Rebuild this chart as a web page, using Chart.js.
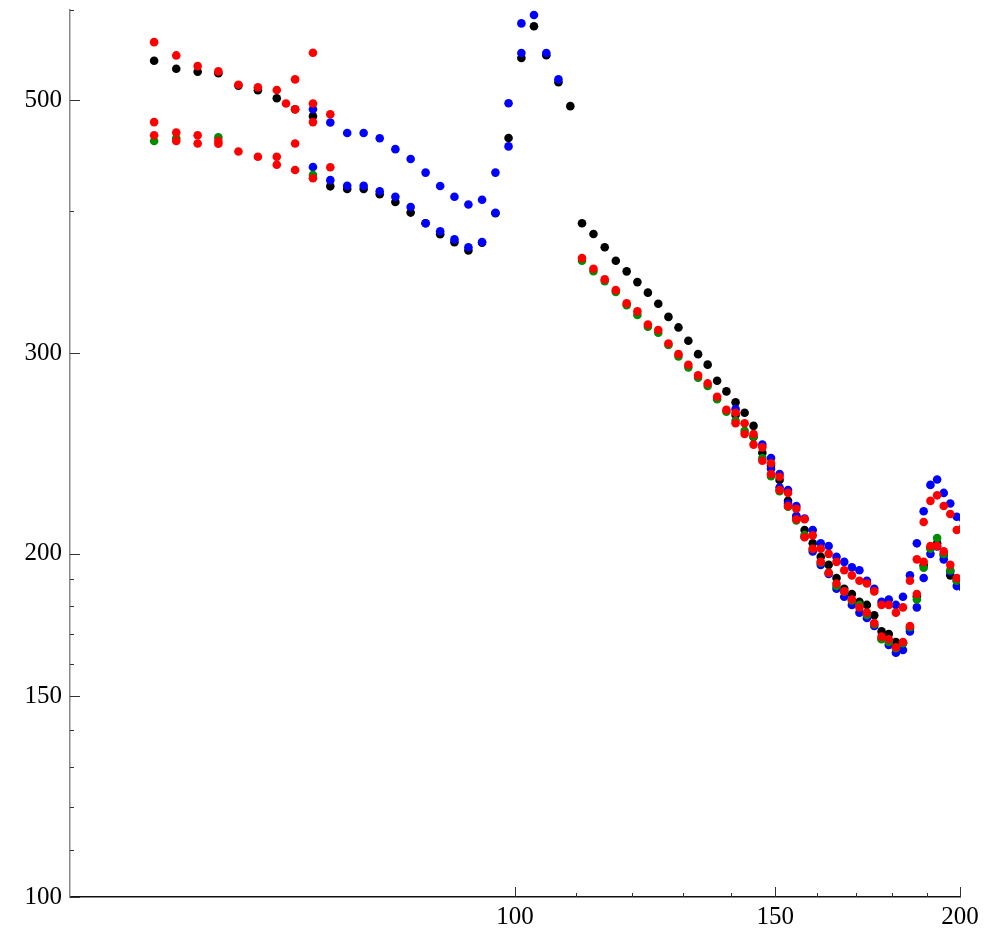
<!DOCTYPE html>
<html>
<head>
<meta charset="utf-8">
<script src="https://cdn.jsdelivr.net/npm/chart.js@4.4.1/dist/chart.umd.min.js"></script>
<style>
  html, body { margin: 0; padding: 0; background: #fff; }
</style>
</head>
<body>
<canvas id="chart" width="991" height="931"></canvas>
<script>
// tick values (both axes are logarithmic)
const xMajor = [100, 150, 200];
const xMinor = [110, 120, 130, 140, 160, 170, 180, 190];
const yMajor = [100, 150, 200, 300, 500];
const yMinor = [110, 120, 130, 140, 160, 170, 180, 190, 400, 600];

// black series
const blackX = [57, 59, 61, 63, 65, 67, 69, 71, 73,
  75, 77, 79, 81, 83, 85, 87, 89, 91, 93, 95, 97,
  99, 101, 103, 105, 107, 109,
  111, 113, 115, 117, 119, 121, 123, 125, 127, 129, 131, 133, 135, 137, 139,
  141, 141, 143, 145, 145, 147, 149, 151, 153, 155, 157, 159, 161, 163, 165,
  167, 169, 171, 173, 175, 177, 179, 181, 183,
  185, 187, 189, 191, 193, 195, 197, 199, 201];
const blackY = [541.6, 532.9, 529.6, 528, 515, 510.2, 502.1, 491, 484,
  420.2, 417.9, 417.9, 413.5, 407.1, 398.5, 390, 381.4, 375.3, 369.2, 375, 398,
  463.3, 544.6, 580.7, 547.6, 518.5, 494.1,
  390.0, 381.6, 371.5, 361.5, 353.9, 346.3, 339.0, 331.5, 322.8, 316.0, 307.6, 299.4, 293.1, 283.7, 277.7,
  271.6, 264.8, 266.0, 259.0, 253.3, 245.3, 239, 232.2, 222.6, 215.6, 209.9, 204.3, 198.8, 195.6, 190.5,
  186.4, 184.4, 181.5, 180.4, 176.7, 171.0, 170.1, 167.4, 167,
  172, 183.5, 195.5, 202.5, 204.3, 199.5, 191.5, 189.5, 189];

// blue series
const blueX = [73, 75, 77, 79, 81, 83, 85, 87, 89, 91, 93, 95, 97, 99, 101, 103, 105, 107,
  73, 75, 77, 79, 81, 83, 85, 87, 89, 91, 93, 95, 97, 99, 101,
  141,
  147, 149, 151, 153, 155, 157, 159, 161, 163, 165, 167, 169, 171, 173, 175, 177, 179, 181, 183,
  185, 187, 189, 191, 193, 195, 197, 199, 201,
  149, 151, 153, 155, 157, 159, 161, 163, 165, 167, 169, 171, 173, 175, 177, 179, 181, 183,
  185, 187, 189, 191, 193, 195, 197, 199, 201];
const blueY = [491, 478, 468, 468, 463, 453, 444, 432, 420.5, 411.5, 405, 409, 432, 497, 584, 594, 550, 521.5,
  437, 425.5, 420.6, 420.6, 416, 411.5, 403, 390, 383.7, 377.5, 371.5, 375.5, 398.4, 455.5, 550,
  267.9,
  249.4, 242.7, 235.0, 227.5, 220.3, 214.8, 209.9, 204.3, 203.2, 198.8, 196.8, 194.6, 193.5, 189.4, 186.4, 181.5, 182.4, 180.4, 183.4,
  191.5, 204.3, 218.0, 229.9, 232.4, 226.2, 221.4, 215.6, 214.5,
  237.5, 228.7, 221.4, 216, 207, 201.0, 195.6, 192, 186.4, 183.4, 180.4, 177.6, 175.7, 172.9, 168.5, 166.4, 163.8, 164.7,
  171.0, 179.5, 190.5, 200.0, 203, 197.8, 193, 187.4, 186.4];

// green series
const greenX = [57, 59, 63, 73,
  111, 113, 115, 117, 119, 121, 123, 125, 127, 129, 131, 133, 135, 137, 139,
  141, 143, 145, 147, 149, 151, 153, 155, 157, 159, 161, 163, 165, 167, 169,
  171, 173, 175, 177, 179, 181, 183, 185, 187, 189, 191, 193, 195, 197, 199, 201];
const greenY = [460.5, 463, 464, 430,
  361.5, 354, 347, 339.5, 330.5, 324, 316.5, 312.6, 305, 298, 291.5, 285.5, 280.7, 273.3, 266.5,
  261.7, 256.4, 253.5, 242.7, 234, 227, 220, 214, 207.8, 202, 196.5, 192.5, 187.4, 185.4, 182,
  180.4, 176.8, 173.5, 168.3, 167.4, 165.3, 167, 172.5, 182.4, 194.5, 202.1, 206.5, 200, 193.5, 189.4, 189.6];

// red series
const redX = [57, 57, 57, 59, 59, 59, 61, 61, 61, 63, 63, 63, 65, 65, 67, 67, 69, 69, 69, 70,
  71, 71, 71, 71, 73, 73, 73, 73, 75, 75,
  111, 113, 115, 117, 119, 121, 123, 125, 127, 129, 131, 133, 135, 137, 139,
  141, 143, 145, 147, 149, 151, 153, 155, 157, 159, 161, 163, 165, 167, 169,
  171, 173, 175, 177, 179, 181, 183, 185, 187, 189, 191, 193, 195, 197, 199, 201,
  141, 143, 145, 147, 149, 151, 153, 155, 157, 159, 161, 163, 165, 167, 169,
  171, 173, 175, 177, 179, 181, 183, 185, 187, 189, 191, 193, 195, 197, 199, 201];
const redY = [562.3, 478.4, 465.8, 547.4, 468.4, 460.5, 535.7, 465.8, 458.2, 530.0, 460.5, 457.9,
  515.9, 450.9, 513.2, 446.1, 510.4, 446.1, 439.0, 496.7,
  521.5, 490.9, 458.2, 434.3, 550.3, 496.7, 478.4, 427.1, 486.1, 436.7,
  363.5, 355.7, 348.2, 340.7, 331.7, 326.4, 317.8, 314.4, 305.9, 299.4, 293.0, 286.8, 282.2, 274.7, 267.5,
  266, 260.4, 254.8, 248.0, 240.2, 233.7, 226.2, 219.1, 214.5, 207.6, 202.1, 200.0, 196.8, 193.5, 191.5,
  189.4, 188.4, 185.4, 180.4, 180.4, 177.6, 179.5, 189.4, 197.8, 213.3, 222.6, 225.1, 220.3, 216.8, 209.9, 211.1,
  260.4, 254.8, 249.4, 241.4, 235.0, 227.5, 220.3, 214.5, 206.8, 202.1, 196.8, 192.5, 188.4, 185.4, 182.4,
  179.5, 177.6, 173.9, 169.2, 168.3, 165.6, 167.4, 172.9, 184.4, 196.8, 203.2, 203.2, 201.0, 195.6, 190.5, 189.4];

function pts(xs, ys) {
    return xs.map((x, i) => ({ x: x, y: ys[i] }));
}

function series(label, xs, ys, color, order) {
    return {
        label: label,
        data: pts(xs, ys),
        backgroundColor: color,
        borderColor: color,
        pointRadius: 4.3,
        pointHoverRadius: 4.3,
        pointBorderWidth: 0,
        clip: 0,
        order: order
    };
}

// inward tick marks, long for labelled values, short for the rest
const tickMarks = {
    id: 'tickMarks',
    afterDraw(chart) {
        const ctx = chart.ctx;
        const area = chart.chartArea;
        const sx = chart.scales.x;
        const sy = chart.scales.y;
        ctx.save();
        ctx.strokeStyle = '#333';
        ctx.lineWidth = 1;
        ctx.beginPath();
        yMajor.forEach(v => {
            const p = Math.round(sy.getPixelForValue(v)) + 0.5;
            ctx.moveTo(area.left, p);
            ctx.lineTo(area.left + 10, p);
        });
        yMinor.forEach(v => {
            const p = Math.round(sy.getPixelForValue(v)) + 0.5;
            ctx.moveTo(area.left, p);
            ctx.lineTo(area.left + 4, p);
        });
        xMajor.forEach(v => {
            const p = Math.round(sx.getPixelForValue(v)) + 0.5;
            ctx.moveTo(p, area.bottom);
            ctx.lineTo(p, area.bottom - 10);
        });
        xMinor.forEach(v => {
            const p = Math.round(sx.getPixelForValue(v)) + 0.5;
            ctx.moveTo(p, area.bottom);
            ctx.lineTo(p, area.bottom - 4);
        });
        ctx.stroke();
        ctx.restore();
    }
};

const tickFont = { family: "'Liberation Serif', 'Times New Roman', serif", size: 25 };

new Chart(document.getElementById('chart'), {
    type: 'scatter',
    data: {
        datasets: [
            series('black', blackX, blackY, '#000000', 4),
            series('blue', blueX, blueY, '#0000ff', 3),
            series('green', greenX, greenY, '#008c00', 2),
            series('red', redX, redY, '#ff0000', 1)
        ]
    },
    options: {
        responsive: false,
        animation: false,
        devicePixelRatio: 1,
        layout: { padding: { top: 10, right: 31, left: 0, bottom: 0 } },
        plugins: {
            legend: { display: false },
            tooltip: { enabled: false }
        },
        scales: {
            x: {
                type: 'logarithmic',
                min: 50,
                max: 200,
                grid: { display: false, drawTicks: false },
                border: { color: '#111111', width: 1.5 },
                ticks: {
                    color: '#000',
                    font: tickFont,
                    padding: 5,
                    autoSkip: false,
                    maxRotation: 0,
                    callback: v => String(v)
                },
                afterBuildTicks: s => { s.ticks = xMajor.map(v => ({ value: v })); },
                afterFit: s => { s.height = 34; s.paddingLeft = 0; s.paddingRight = 0; }
            },
            y: {
                type: 'logarithmic',
                min: 100,
                max: 600,
                grid: { display: false, drawTicks: false },
                border: { color: '#888888', width: 1.5 },
                ticks: {
                    color: '#000',
                    font: tickFont,
                    padding: 8,
                    autoSkip: false,
                    callback: v => String(v)
                },
                afterBuildTicks: s => { s.ticks = yMajor.map(v => ({ value: v })); },
                afterFit: s => { s.width = 70; s.paddingTop = 0; s.paddingBottom = 0; }
            }
        }
    },
    plugins: [tickMarks]
});
</script>
</body>
</html>
